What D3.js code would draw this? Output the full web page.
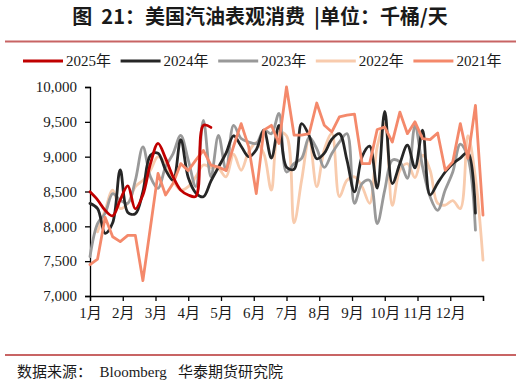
<!DOCTYPE html>
<html>
<head>
<meta charset="utf-8">
<script src="https://cdn.jsdelivr.net/npm/d3@7"></script>
<style>
  body { margin: 0; background: #fff; }
  svg { display: block; }
  text { white-space: pre; }
</style>
</head>
<body>
<script>
// weekly apparent gasoline demand, thousand barrels / day (week index 0..52)
const years = ["2025年", "2024年", "2023年", "2022年", "2021年"];
const colors = ["#c00000", "#262626", "#999999", "#f8cbad", "#f4896b"];

const v2025 = [8495, 8380, 8230, 8150, 8380, 8580, 8250, 8450, 8900, 9190, 8975, 8710, 8520, 8450, 8430, 9450, 9420];
const v2024 = [8330, 8255, 7900, 8050, 8810, 8200, 8180, 8500, 9020, 9050, 8810, 8660, 9245, 8700, 8480, 8425,
  8650, 8850, 9050, 9300, 9150, 9000, 9100, 9380, 8980, 9450, 8850, 8820, 9475, 9300, 8970, 9050, 9250, 9330,
  8950, 8495, 9000, 9150, 8550, 9650, 8615, 8900, 9165, 8840, 9380, 8450, 8620, 8780, 8900, 8980, 9060, 8190];
const v2023 = [7565, 8040, 8185, 8470, 8375, 8330, 8660, 9140, 8710, 8545, 8855, 9045, 9307, 8950, 8570, 9520,
  8710, 9307, 8805, 9450, 9260, 9210, 9190, 9380, 9330, 9620, 8780, 8900, 8975, 9275, 9115, 8845, 9045, 9210,
  9330, 8330, 8615, 8660, 8040, 8520, 8950, 8925, 8690, 9440, 8855, 8425, 8230, 8520, 8780, 9180, 8990, 7945];
const v2022 = [null, 7920, 8230, 8520, 8255, 8330, 8570, 8660, 8806, 9000, 8900, 8660, 8520, 8570, 8710, 8880,
  8845, 8830, 8710, 9035, 8805, 9070, 9200, 9045, 8520, 9350, 9300, 8050, 8660, 9260, 8570, 9100, 9330, 8425,
  8660, 8710, 8570, 8330, 9140, 9475, 8300, 8805, 8900, 8700, 9020, 8805, 8330, 8305, 8370, 8255, 9300, 8700, 7515];
const v2021 = [7450, 7530, 8130, 7850, 7780, 7870, 7870, 7220, 7990, 8760, 8450, 8620, 8900, 8800, 8950, 9090,
  8880, 8850, 8800, 9150, 9475, 9140, 8470, 9380, 9450, 9190, 10000, 9310, 9310, 9330, 9770, 9450, 9355, 9570,
  9595, 9610, 8900, 8900, 9390, 9425, 9210, 9640, 9330, 9500, 9260, 9245, 9340, 8805, 8925, 9475, 8975, 9735, 8160];

const months = ["1月", "2月", "3月", "4月", "5月", "6月", "7月", "8月", "9月", "10月", "11月", "12月", ""];
const yTicks = [7000, 7500, 8000, 8500, 9000, 9500, 10000];

const W = 521, H = 385;
const serif = "'Liberation Serif', 'Noto Sans CJK SC', serif";

const svg = d3.select("body").append("svg")
    .attr("width", W)
    .attr("height", H);

// title
svg.append("text")
    .attr("x", 260)
    .attr("y", 24)
    .attr("text-anchor", "middle")
    .style("font", "bold 20px 'Noto Sans CJK SC', sans-serif")
    .attr("fill", "#1a1a1a")
    .text("图  21：美国汽油表观消费  |单位：千桶/天");

svg.append("line")
    .attr("x1", 5).attr("x2", 516)
    .attr("y1", 41.5).attr("y2", 41.5)
    .attr("stroke", "#c86464")
    .attr("stroke-width", 2);

// legend
const legend = svg.append("g").attr("transform", "translate(23,61)");
years.forEach((y, i) => {
  const g = legend.append("g").attr("transform", `translate(${i * 97.6},0)`);
  g.append("line")
      .attr("x1", 0).attr("x2", 40)
      .attr("stroke", colors[i])
      .attr("stroke-width", 3);
  g.append("text")
      .attr("x", 43)
      .attr("dy", "0.35em")
      .style("font", `15px ${serif}`)
      .attr("fill", "#1a1a1a")
      .text(y);
});

const x = d3.scaleLinear().domain([0, 52]).range([90, 483]);
const y = d3.scaleLinear().domain([7000, 10000]).range([296, 87]);

// axes
const yAxis = svg.append("g")
    .attr("transform", `translate(${x(0)},0)`)
    .call(d3.axisLeft(y).tickValues(yTicks).tickFormat(d3.format(",")).tickSize(5).tickPadding(8));

const xAxis = svg.append("g")
    .attr("transform", `translate(0,${y(7000)})`)
    .call(d3.axisBottom(x)
      .tickValues(d3.range(13).map(k => k * 52 / 12))
      .tickFormat((d, i) => months[i])
      .tickSize(5).tickPadding(6));

[yAxis, xAxis].forEach(a => {
  a.select(".domain").attr("stroke", "#000").attr("stroke-width", 1.3);
  a.selectAll(".tick line").attr("stroke", "#000").attr("stroke-width", 1.3);
  a.selectAll("text").style("font", `15px ${serif}`).attr("fill", "#1a1a1a");
});

// series
const series = [
  { vals: v2022, color: colors[3], curve: d3.curveCatmullRom },
  { vals: v2023, color: colors[2], curve: d3.curveCatmullRom },
  { vals: v2024, color: colors[1], curve: d3.curveCatmullRom },
  { vals: v2021, color: colors[4], curve: d3.curveLinear },
  { vals: v2025, color: colors[0], curve: d3.curveCatmullRom }
];

const plot = svg.append("g");
series.forEach(s => {
  const line = d3.line()
      .defined(d => d != null)
      .x((d, i) => x(i))
      .y(d => y(d))
      .curve(s.curve);
  plot.append("path")
      .attr("d", line(s.vals))
      .attr("fill", "none")
      .attr("stroke", s.color)
      .attr("stroke-width", 2.8)
      .attr("stroke-linejoin", "round")
      .attr("stroke-linecap", "round");
});

// footer
svg.append("line")
    .attr("x1", 5).attr("x2", 516)
    .attr("y1", 355).attr("y2", 355)
    .attr("stroke", "#c86464")
    .attr("stroke-width", 2);

svg.append("text")
    .attr("x", 17)
    .attr("y", 377)
    .style("font", `15px ${serif}`)
    .attr("fill", "#1a1a1a")
    .text("数据来源：  Bloomberg   华泰期货研究院");
</script>
</body>
</html>
